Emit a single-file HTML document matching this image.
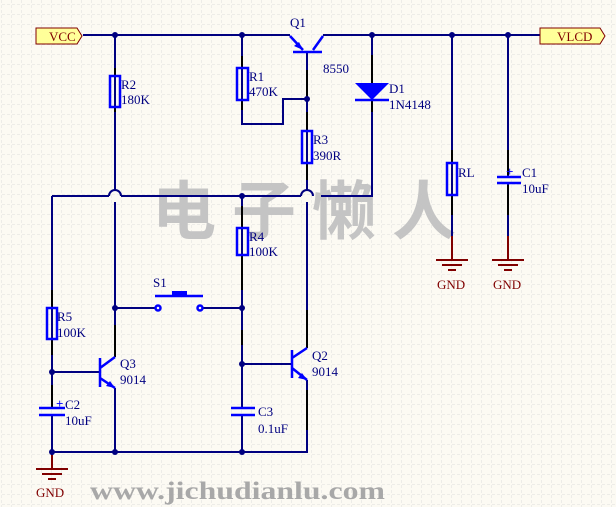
<!DOCTYPE html><html><head><style>body{margin:0;background:#fcfaf3}svg{display:block}</style></head><body>
<svg width="616" height="507" xmlns="http://www.w3.org/2000/svg" font-family="Liberation Serif, serif">
<defs><pattern id="g" width="10" height="10" patternUnits="userSpaceOnUse" x="2" y="5"><path d="M10 0V10M0 10H10" stroke="#dedede" stroke-width="1" stroke-dasharray="3,2" fill="none"/></pattern></defs>
<rect width="616" height="507" fill="#fcfaf3"/><rect width="616" height="507" fill="url(#g)"/>
<text x="152" y="234" font-size="64" font-weight="bold" fill="#c4c4c4" font-family="Noto Sans CJK SC, sans-serif" letter-spacing="16">电子懒人</text>
<g stroke="#000080" stroke-width="2" fill="none">
<path d="M83 35H290M323 35H540"/>
<path d="M115 35V190M115 202V308V357"/>
<path d="M242 35V124H283V99H307"/>
<path d="M307 52V190M307 202V348"/>
<path d="M372 35V196H321M52 196H109M121 196H301"/>
<path d="M109 196A6 6 0 0 1 121 196M301 196A6 6 0 0 1 313 196"/>
<path d="M242 196V408M242 415V452"/>
<path d="M52 196V408M52 415V467"/>
<path d="M52 452H307V380"/>
<path d="M115 388V452"/>
<path d="M52 372H100M242 364H292"/>
<path d="M115 308H155M203 308H242"/>
<path d="M452 35V260M508 35V177M508 183V260"/>
</g>
<g stroke="#000" stroke-width="2"><path d="M115 68V75M115 107V112M242 56V68M242 100V110M307 70V98M307 112V131M307 163V180M372 55V83M372 100V112M242 206V228M242 255V290M52 290V308M52 339V355M452 150V163M452 195V215M508 150V175M508 185V215M115 325V357M307 310V348M307 390V430M242 330V345M52 385V408"/></g>
<g stroke="#0000ff" stroke-width="2.5" fill="none">
<rect x="110" y="76" width="10" height="31"/><rect x="237" y="68" width="11" height="32"/><rect x="302" y="131" width="10" height="32"/><rect x="237" y="228" width="11" height="27"/><rect x="47" y="308" width="10" height="31"/><rect x="447" y="163" width="10" height="32"/>
<path d="M293 52H322M290 36L303 50M323 36L313 50"/>
<path d="M100 358V387M100 368L115 357M100 378L115 388"/>
<path d="M292 350V378M292 358L307 348M292 368L307 380"/>
<path d="M39 408H65M39 415H65M231 408H255M231 415H255M497 177H521M497 183H521"/>
<path d="M155 296H203"/><circle cx="158" cy="308" r="2.5"/><circle cx="200" cy="308" r="2.5"/>
<path d="M355 100H389"/>
</g>
<g fill="#0000ff"><rect x="172" y="291" width="15" height="5"/><path d="M355 83H389L372 100Z"/><path d="M303 50L294 46L299 42Z"/><path d="M115 388L106 386L110 381Z"/><path d="M307 380L298 378L302 373Z"/>
<text x="56" y="408" font-size="13" font-weight="bold">+</text><text x="506" y="176" font-size="13" font-weight="bold">+</text></g>
<g fill="#000080"><circle cx="115" cy="35" r="3"/><circle cx="242" cy="35" r="3"/><circle cx="372" cy="35" r="3"/><circle cx="452" cy="35" r="3"/><circle cx="508" cy="35" r="3"/><circle cx="307" cy="99" r="3"/><circle cx="242" cy="196" r="3"/><circle cx="115" cy="308" r="3"/><circle cx="242" cy="308" r="3"/><circle cx="242" cy="364" r="3"/><circle cx="52" cy="372" r="3"/><circle cx="52" cy="452" r="3"/><circle cx="115" cy="452" r="3"/><circle cx="242" cy="452" r="3"/></g>
<g stroke="#800000" stroke-width="2"><path d="M52 455V469M36 469H68M42 474H62M48 479H56M452 236V260M436 260H468M442 265H462M448 270H456M508 236V260M492 260H524M498 265H518M504 270H512"/></g>
<path d="M36 28H77L82 36L77 44H36Z" fill="#ffff99" stroke="#800000"/>
<path d="M540 28H600L605 36L600 44H540Z" fill="#ffff99" stroke="#800000"/>
<g font-size="13" fill="#800000"><text x="49" y="41">VCC</text><text x="557" y="41">VLCD</text><text x="36" y="497">GND</text><text x="437" y="289">GND</text><text x="493" y="289">GND</text></g>
<g font-size="13" fill="#000080">
<text x="290" y="27">Q1</text><text x="323" y="73">8550</text>
<text x="121" y="89">R2</text><text x="121" y="104">180K</text>
<text x="249" y="81">R1</text><text x="249" y="96">470K</text>
<text x="313" y="144">R3</text><text x="313" y="160">390R</text>
<text x="389" y="93">D1</text><text x="389" y="109">1N4148</text>
<text x="458" y="177">RL</text><text x="522" y="177">C1</text><text x="522" y="193">10uF</text>
<text x="249" y="241">R4</text><text x="249" y="256">100K</text>
<text x="153" y="287">S1</text>
<text x="57" y="321">R5</text><text x="57" y="337">100K</text>
<text x="120" y="368">Q3</text><text x="120" y="384">9014</text>
<text x="312" y="360">Q2</text><text x="312" y="376">9014</text>
<text x="65" y="409">C2</text><text x="65" y="425">10uF</text>
<text x="258" y="416">C3</text><text x="258" y="433">0.1uF</text>
</g>
<text x="90" y="499" font-size="25" font-weight="bold" fill="#a8a8a8" textLength="295" lengthAdjust="spacingAndGlyphs">www.jichudianlu.com</text>
</svg></body></html>
